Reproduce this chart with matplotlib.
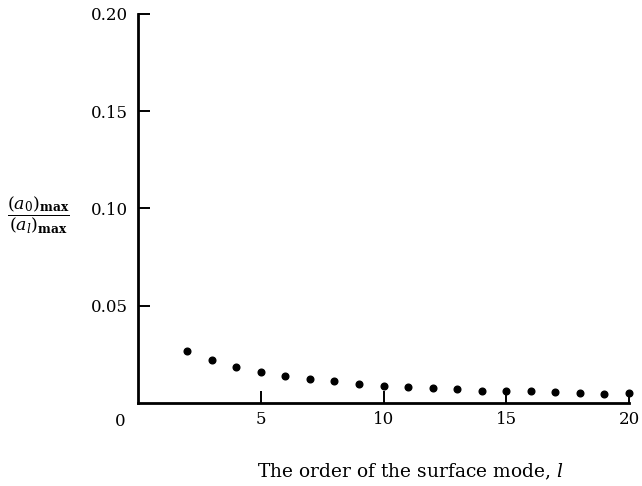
import matplotlib
matplotlib.use("Agg")
import matplotlib.pyplot as plt

plt.rcParams['font.family'] = ['DejaVu Serif']
plt.rcParams['mathtext.fontset'] = 'dejavuserif'

# Data
modes = [2, 3, 4, 5, 6, 7, 8, 9, 10, 11, 12, 13, 14, 15, 16, 17, 18, 19, 20]
ratio = [0.0268, 0.0219, 0.0187, 0.0160, 0.0141, 0.0122, 0.0112, 0.0098, 0.0089,
         0.0081, 0.0076, 0.0071, 0.0063, 0.0060, 0.0060, 0.0055, 0.0052, 0.0048, 0.0050]
xticks = [5, 10, 15, 20]
xticklabels = ['5', '10', '15', '20']
yticks = [0.05, 0.10, 0.15, 0.20]
yticklabels = ['0.05', '0.10', '0.15', '0.20']

fig = plt.figure(figsize=(6.42, 4.86), dpi=100)
ax = fig.add_axes([138/642, 1-403/486, (629-138)/642, (403-14)/486])

ax.plot(modes, ratio, 'o', color='black', markersize=4.8, clip_on=False, zorder=5)

ax.set_xlim(0, 20)
ax.set_ylim(0, 0.20)
ax.spines['top'].set_visible(False)
ax.spines['right'].set_visible(False)
for s in ('left', 'bottom'):
    ax.spines[s].set_linewidth(2.0)

ax.set_xticks(xticks)
ax.set_xticklabels(xticklabels)
ax.set_yticks(yticks)
ax.set_yticklabels(yticklabels)
ax.tick_params(axis='both', direction='in', length=8.5, width=1.4, labelsize=12, colors='black')
ax.tick_params(axis='y', pad=7)
ax.tick_params(axis='x', pad=6)

ax.annotate('0', xy=(0, 0), xycoords='axes fraction', xytext=(-13, -7),
            textcoords='offset points', ha='center', va='top', fontsize=12)

fig.text(410/642, 1-472/486, r'The order of the surface mode, $l$',
         ha='center', va='center', fontsize=13.4)
fig.text(38/642, 1-215/486, r'$\dfrac{(a_0)_{\mathbf{max}}}{(a_l)_{\mathbf{max}}}$',
         ha='center', va='center', fontsize=12.5)

fig.savefig('out.png', dpi=100)
